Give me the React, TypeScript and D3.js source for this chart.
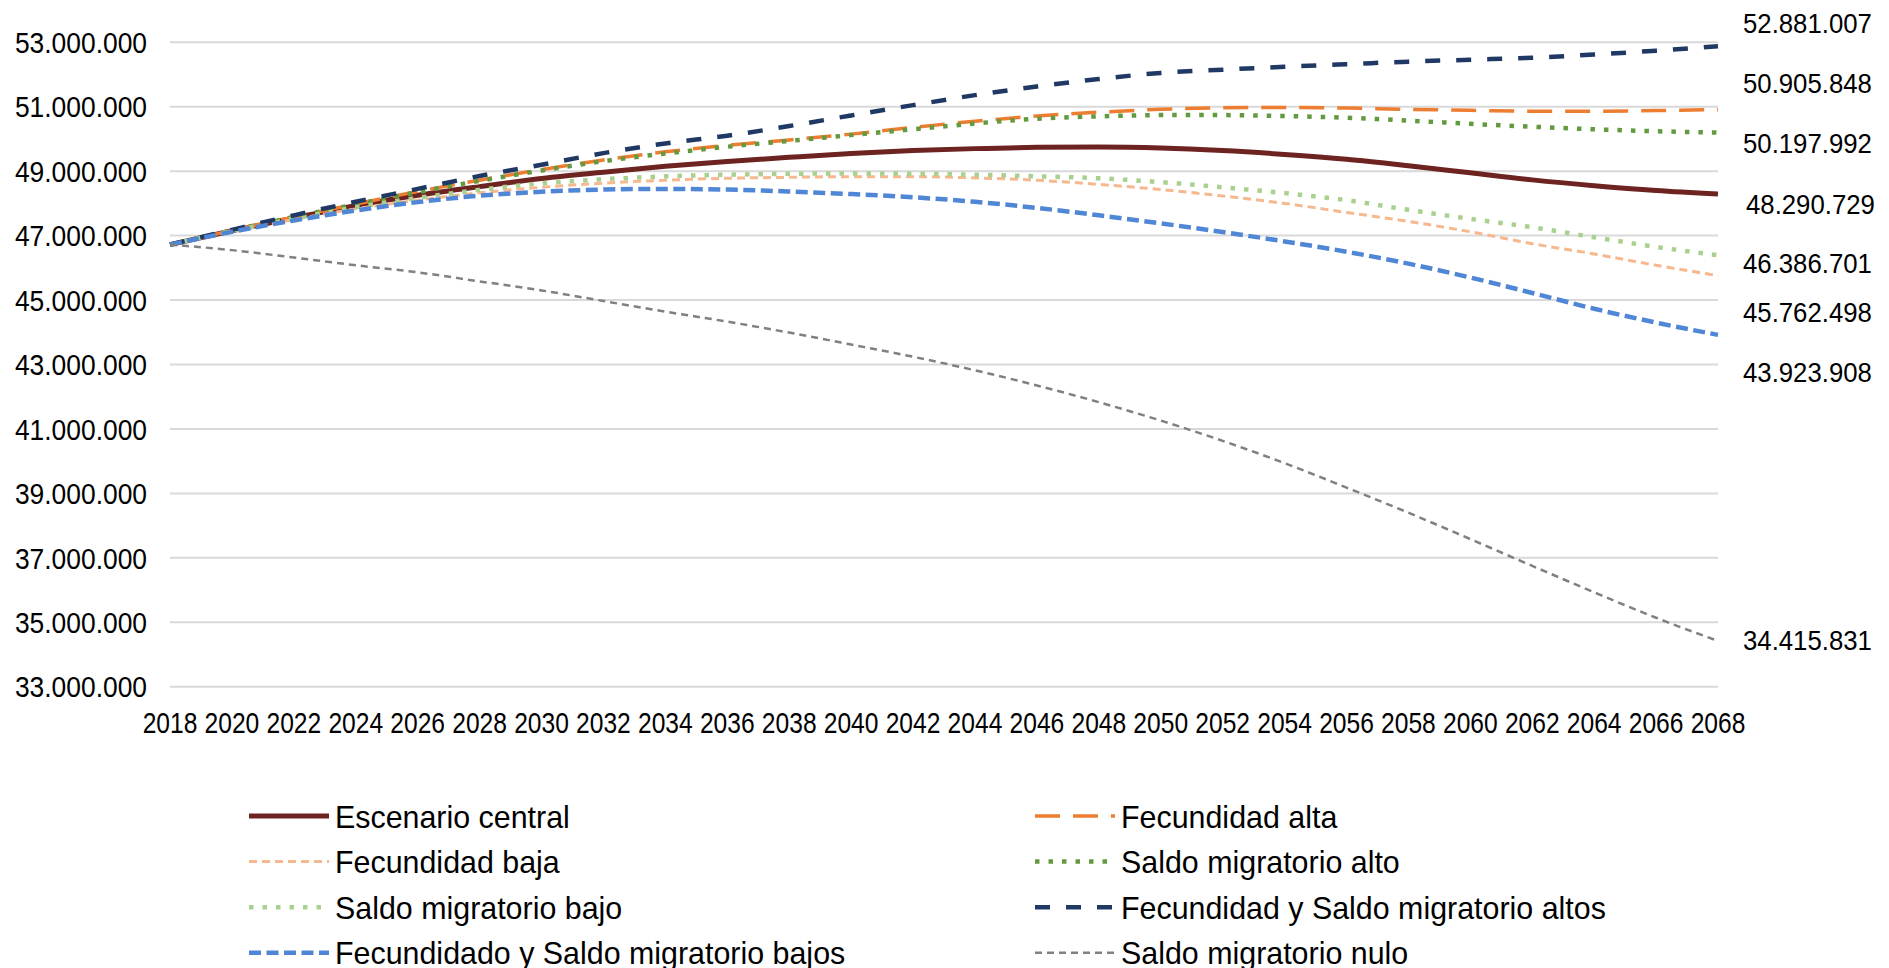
import React from "react";
import * as d3 from "d3";

// ---------- DATA (millions of inhabitants) ----------
const years = [2018, 2020, 2022, 2024, 2026, 2028, 2030, 2032, 2034, 2036, 2038, 2040, 2042,
  2044, 2046, 2048, 2050, 2052, 2054, 2056, 2058, 2060, 2062, 2064, 2066, 2068];

const escenarioCentral = [46.72, 47.15, 47.55, 47.93, 48.25, 48.52, 48.77, 48.97, 49.15, 49.30, 49.43, 49.55, 49.64,
  49.70, 49.74, 49.75, 49.72, 49.64, 49.52, 49.37, 49.17, 48.95, 48.73, 48.55, 48.40, 48.29];
const fecundidadAlta = [46.72, 47.16, 47.58, 47.98, 48.37, 48.72, 49.05, 49.35, 49.60, 49.80, 49.97, 50.15, 50.36,
  50.55, 50.71, 50.83, 50.92, 50.97, 50.98, 50.96, 50.92, 50.89, 50.86, 50.86, 50.88, 50.91];
const fecundidadBaja = [46.72, 47.13, 47.50, 47.83, 48.10, 48.33, 48.50, 48.63, 48.72, 48.78, 48.81, 48.83, 48.83,
  48.79, 48.72, 48.59, 48.43, 48.23, 48.00, 47.72, 47.44, 47.12, 46.75, 46.43, 46.08, 45.76];
const saldoAlto = [46.72, 47.16, 47.58, 47.97, 48.35, 48.70, 49.02, 49.31, 49.55, 49.76, 49.94, 50.12, 50.30,
  50.48, 50.63, 50.70, 50.74, 50.74, 50.71, 50.66, 50.57, 50.47, 50.38, 50.30, 50.24, 50.20];
const saldoBajo = [46.72, 47.14, 47.53, 47.88, 48.17, 48.42, 48.62, 48.75, 48.84, 48.89, 48.92, 48.93, 48.92,
  48.89, 48.84, 48.78, 48.66, 48.50, 48.32, 48.10, 47.80, 47.52, 47.26, 46.95, 46.65, 46.39];
const fecSaldoAltos = [46.72, 47.18, 47.63, 48.05, 48.45, 48.85, 49.20, 49.56, 49.86, 50.10, 50.40, 50.73, 51.05,
  51.36, 51.63, 51.86, 52.05, 52.15, 52.24, 52.32, 52.40, 52.46, 52.52, 52.62, 52.74, 52.88];
const fecSaldoBajos = [46.72, 47.12, 47.47, 47.78, 48.04, 48.24, 48.36, 48.43, 48.45, 48.43, 48.37, 48.29, 48.19,
  48.05, 47.86, 47.63, 47.38, 47.11, 46.82, 46.50, 46.13, 45.70, 45.22, 44.73, 44.30, 43.92];
const saldoNulo = [46.72, 46.55, 46.32, 46.08, 45.86, 45.58, 45.30, 44.97, 44.64, 44.33, 43.99, 43.62, 43.24,
  42.82, 42.35, 41.83, 41.26, 40.63, 39.94, 39.18, 38.40, 37.58, 36.75, 35.93, 35.14, 34.42];

const seriesNames = [
  "Escenario central",
  "Fecundidad alta",
  "Fecundidad baja",
  "Saldo migratorio alto",
  "Saldo migratorio bajo",
  "Fecundidad y Saldo migratorio altos",
  "Fecundidado y Saldo migratorio bajos",
  "Saldo migratorio nulo",
];
const seriesValues = [escenarioCentral, fecundidadAlta, fecundidadBaja, saldoAlto, saldoBajo,
  fecSaldoAltos, fecSaldoBajos, saldoNulo];

const yTicks = [33000000, 35000000, 37000000, 39000000, 41000000, 43000000, 45000000,
  47000000, 49000000, 51000000, 53000000];

// end-of-line data labels (value and where the label sits, in millions)
const endLabelValues = [52881007, 50905848, 50197992, 48290729, 46386701, 45762498, 43923908, 34415831];
const endLabelPos = [53.59, 51.73, 49.87, 47.98, 46.14, 44.64, 42.78, 34.45];
const endLabelDx = [0, 0, 0, 3, 0, 0, 0, 0];

// ---------- STYLES ----------
const styles = [
  { color: "#6D2320", width: 5, dash: "" },
  { color: "#ED7D31", width: 3.5, dash: "25,13" },
  { color: "#F6B88E", width: 3, dash: "8,5" },
  { color: "#649A3F", width: 4.5, dash: "4.5,9" },
  { color: "#A9D08E", width: 4.5, dash: "4.5,9" },
  { color: "#203864", width: 4.5, dash: "15,16" },
  { color: "#4F86D5", width: 4.5, dash: "12,5.5" },
  { color: "#808080", width: 2.5, dash: "7,5" },
];

const W = 1889;
const H = 968;
const FONT = "'Liberation Sans', Arial, sans-serif";

const locale = d3.formatLocale({ decimal: ",", thousands: ".", grouping: [3], currency: ["", "€"] });
const fmt = locale.format(",d");

export default function App() {
  const x = d3.scaleLinear().domain([2018, 2068]).range([170, 1718]);
  const y = d3.scaleLinear().domain([33, 53]).range([686.7, 42.3]);

  const line = d3
    .line<number>()
    .x((_, i) => x(years[i]))
    .y((d) => y(d))
    .curve(d3.curveMonotoneX);

  const legendRowY = (r: number) => 816 + r * 45.6;
  const legendColX = [249, 1035];
  const sampleW = 80;

  return (
    <svg
      width={W}
      height={H}
      style={{ position: "absolute", left: 0, top: 0, background: "#fff" }}
      fontFamily={FONT}
    >
      <rect x={0} y={0} width={W} height={H} fill="#fff" />
      {/* gridlines */}
      {yTicks.map((t) => (
        <line key={t} x1={170} x2={1718} y1={y(t / 1e6)} y2={y(t / 1e6)} stroke="#D9D9D9" strokeWidth={2} />
      ))}
      {/* y tick labels */}
      {yTicks.map((t) => (
        <g key={"yl" + t} transform={`translate(147,${y(t / 1e6) + 0.358 * 30}) scale(0.88,1)`}>
          <text textAnchor="end" fontSize={30} fill="#000">
            {fmt(t)}
          </text>
        </g>
      ))}
      {/* x tick labels */}
      {years.map((yr) => (
        <g key={"xl" + yr} transform={`translate(${x(yr)},733) scale(0.82,1)`}>
          <text textAnchor="middle" fontSize={30} fill="#000">
            {yr}
          </text>
        </g>
      ))}
      {/* series */}
      {seriesValues.map((vals, i) => (
        <path
          key={seriesNames[i]}
          d={line(vals) || ""}
          fill="none"
          stroke={styles[i].color}
          strokeWidth={styles[i].width}
          strokeDasharray={styles[i].dash || undefined}
          strokeLinejoin="round"
        />
      ))}
      {/* end labels */}
      {endLabelValues.map((v, i) => (
        <g key={"el" + i} transform={`translate(${1743 + endLabelDx[i]},${y(endLabelPos[i]) + 0.358 * 28}) scale(0.92,1)`}>
          <text fontSize={28} fill="#000">
            {fmt(v)}
          </text>
        </g>
      ))}
      {/* legend */}
      {seriesNames.map((name, i) => {
        const col = i % 2;
        const row = Math.floor(i / 2);
        const lx = legendColX[col];
        const ly = legendRowY(row);
        return (
          <g key={"lg" + i}>
            <line
              x1={lx}
              x2={lx + sampleW}
              y1={ly}
              y2={ly}
              stroke={styles[i].color}
              strokeWidth={styles[i].width}
              strokeDasharray={styles[i].dash || undefined}
            />
            <g transform={`translate(${lx + sampleW + 6},${ly + 0.36 * 32}) scale(0.95,1)`}>
              <text fontSize={32} fill="#000">
                {name}
              </text>
            </g>
          </g>
        );
      })}
    </svg>
  );
}
